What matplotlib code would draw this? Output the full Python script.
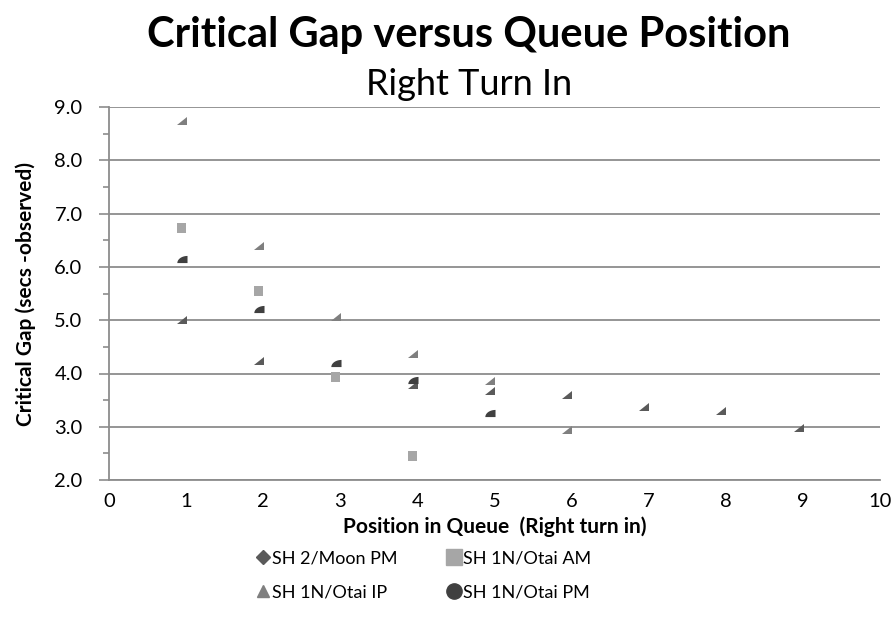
import matplotlib
matplotlib.use("Agg")
import matplotlib.pyplot as plt
from matplotlib.path import Path
from matplotlib.lines import Line2D
import numpy as np

plt.rcParams['font.family'] = ['Lato', 'DejaVu Sans']

# Data
moon_pm_x = [1, 2, 4, 5, 6, 7, 8, 9]
moon_pm_y = [5.00, 4.23, 3.79, 3.67, 3.60, 3.37, 3.30, 2.98]
otai_am_x = [1, 2, 3, 4]
otai_am_y = [6.73, 5.55, 3.93, 2.45]
otai_ip_x = [1, 2, 3, 4, 5, 6]
otai_ip_y = [8.74, 6.39, 5.06, 4.37, 3.86, 2.94]
otai_pm_x = [1, 2, 3, 4, 5]
otai_pm_y = [6.15, 5.21, 4.20, 3.88, 3.26]

series_names = ["SH 2/Moon PM", "SH 1N/Otai AM", "SH 1N/Otai IP", "SH 1N/Otai PM"]
colors = ["#5a5a5a", "#a6a6a6", "#7f7f7f", "#404040"]

# Clipped marker shapes (as they appear in the reference): visible part sits left of the point
tri_half = Path([(-1.8, -0.7), (0.2, -0.7), (0.2, 0.7), (-1.8, -0.7)],
                [Path.MOVETO, Path.LINETO, Path.LINETO, Path.CLOSEPOLY])
arc = [(0.2 + 2.0 * np.cos(a), -0.7 + 1.4 * np.sin(a)) for a in np.linspace(np.pi / 2, np.pi, 12)]
circ_half = Path([(-1.8, -0.7), (0.2, -0.7)] + arc[:-1] + [(-1.8, -0.7)])
sq_shift = Path([(-1.4, -0.7), (0.0, -0.7), (0.0, 0.7), (-1.4, 0.7), (-1.4, -0.7)],
                [Path.MOVETO, Path.LINETO, Path.LINETO, Path.LINETO, Path.CLOSEPOLY])

fig = plt.figure(figsize=(8.93, 6.3), dpi=100)
ax = fig.add_axes([0.122, 0.238, 0.863, 0.592])

ax.scatter(moon_pm_x, moon_pm_y, marker=tri_half, s=175, color=colors[0], zorder=3, linewidths=0)
ax.scatter(otai_am_x, otai_am_y, marker=sq_shift, s=170, color=colors[1], zorder=3, linewidths=0)
ax.scatter(otai_ip_x, otai_ip_y, marker=tri_half, s=175, color=colors[2], zorder=3, linewidths=0)
ax.scatter(otai_pm_x, otai_pm_y, marker=circ_half, s=175, color=colors[3], zorder=3, linewidths=0)

ax.set_xlim(0, 10)
ax.set_ylim(2, 9)
ax.set_xticks(range(0, 11))
ax.set_yticks(np.arange(2, 9.01, 1))
ax.set_yticklabels([f"{v:.1f}" for v in np.arange(2, 9.01, 1)])
ax.set_yticks(np.arange(2.5, 9, 1), minor=True)
ax.yaxis.grid(True, color="#8c8c8c", linewidth=1.3)
ax.set_axisbelow(True)
for s in ["top", "right"]:
    ax.spines[s].set_visible(False)
for s in ["left", "bottom"]:
    ax.spines[s].set_color("#8c8c8c")
    ax.spines[s].set_linewidth(1.3)
ax.tick_params(axis='y', which='major', length=7, color="#8c8c8c", width=1.2, labelsize=14.5, pad=12)
ax.tick_params(axis='y', which='minor', length=4, color="#8c8c8c", width=1.2)
ax.tick_params(axis='x', which='major', length=0, labelsize=14.5, pad=9)

ax.set_xlabel("Position in Queue  (Right turn in)", fontsize=15, fontweight='bold', labelpad=5)
ax.set_ylabel("Critical Gap (secs -observed)", fontsize=15, fontweight='bold', labelpad=13)

fig.text(0.525, 0.945, "Critical Gap versus Queue Position", ha='center', va='center',
         fontsize=30, fontweight='bold')
fig.text(0.525, 0.866, "Right Turn In", ha='center', va='center', fontsize=26)

handles = [
    Line2D([], [], marker='D', color=colors[0], linestyle='None', markersize=7),
    Line2D([], [], marker='^', color=colors[2], linestyle='None', markersize=9),
    Line2D([], [], marker='s', color=colors[1], linestyle='None', markersize=11),
    Line2D([], [], marker='o', color=colors[3], linestyle='None', markersize=11),
]
labels = [series_names[0], series_names[2], series_names[1], series_names[3]]
fig.legend(handles, labels, loc='center', bbox_to_anchor=(0.473, 0.087), ncol=2,
           frameon=False, fontsize=13, handletextpad=0.0, columnspacing=2.6,
           labelspacing=1.0, handlelength=1.0)

fig.savefig("out.png", dpi=100)
